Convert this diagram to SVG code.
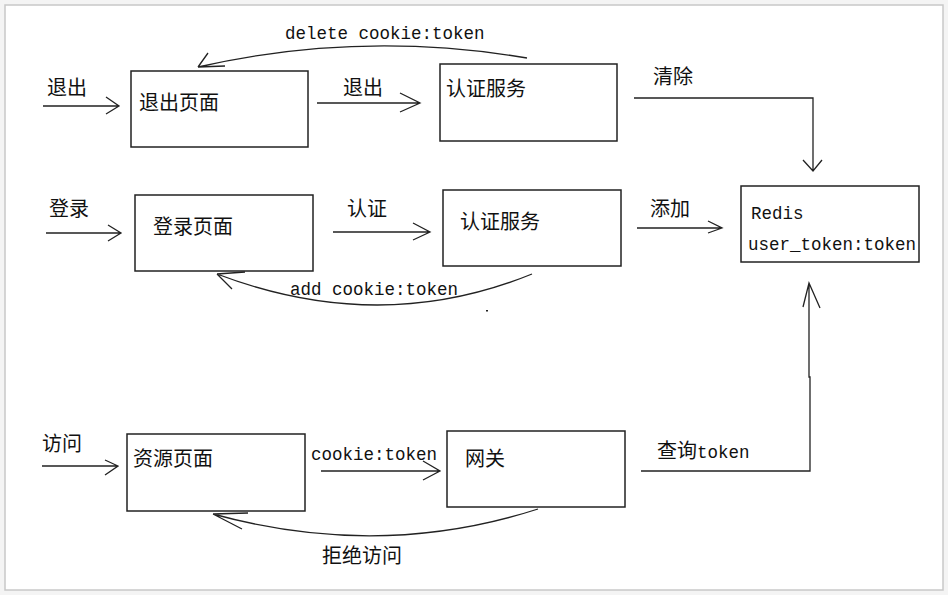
<svg xmlns="http://www.w3.org/2000/svg" width="948" height="595" viewBox="0 0 948 595">
<defs>
<style>
.box{fill:#fff;stroke:#222;stroke-width:1.5}
.ln{fill:none;stroke:#222;stroke-width:1.3}
.cn{font-family:"Noto Sans CJK SC","Liberation Sans",sans-serif;font-size:20px;fill:#111}
.mn{font-family:"Liberation Mono","DejaVu Sans Mono",monospace;font-size:17.5px;fill:#111}
</style>
</defs>
<rect x="0" y="0" width="948" height="595" fill="#f4f4f4"/>
<rect x="5" y="5" width="938" height="585" fill="#fff" stroke="#c8c8c8" stroke-width="1.5"/>

<g id="connectors">
<path class="ln" d="M43 106 H119 M106 97 L119 106 L106 114"/>
<path class="ln" d="M317 103 H420 M400 93 L420 103 L400 112"/>
<path class="ln" d="M527 58 Q360 30 198 67 M198 67 L208 53 M198 67 L225 66"/>
<path class="ln" d="M634 98 H813 V171 M803 160 L813 171 L822 160"/>
<path class="ln" d="M46 233 H121 M108 225 L121 233 L108 241"/>
<path class="ln" d="M333 232 H430 M413 223 L430 232 L413 240"/>
<path class="ln" d="M637 228 H722 M708 221 L722 228 L708 233"/>
<path class="ln" d="M532 274 Q380 336 217 274 M217 274 L232 289 M217 274 L245 272"/>
<rect x="486" y="310" width="2" height="1.5" fill="#222"/>
<path class="ln" d="M42 466 H118 M105 460 L118 466 L105 475"/>
<path class="ln" d="M321 471 H440 M423 461 L440 471 L423 480"/>
<path class="ln" d="M641 471 H810 V377 H809 V283 M803 307 L809 283 L820 308"/>
<path class="ln" d="M538 509 Q380 560 213 514 M213 514 L242 529 M213 514 L248 513"/>
</g>

<g id="labels">
<text class="cn" x="47" y="95">退出</text>
<text class="cn" x="343" y="95">退出</text>
<text class="mn" x="285" y="39">delete cookie:token</text>
<text class="cn" x="653" y="84">清除</text>
<text class="cn" x="49" y="216">登录</text>
<text class="cn" x="347" y="216">认证</text>
<text class="cn" x="650" y="216">添加</text>
<text class="mn" x="290" y="295">add cookie:token</text>
<text class="cn" x="42" y="451">访问</text>
<text class="mn" x="311" y="460">cookie:token</text>
<text x="657" y="458"><tspan class="cn">查询</tspan><tspan class="mn">token</tspan></text>
<text class="cn" x="322" y="563">拒绝访问</text>
</g>

<g id="logout-page"><rect class="box" x="131" y="71" width="177" height="76"/><text class="cn" x="139" y="110">退出页面</text></g>
<g id="auth-service-1"><rect class="box" x="440" y="64" width="177" height="77"/><text class="cn" x="446" y="96">认证服务</text></g>
<g id="login-page"><rect class="box" x="135" y="195" width="178" height="76"/><text class="cn" x="153" y="234">登录页面</text></g>
<g id="auth-service-2"><rect class="box" x="443" y="190" width="178" height="76"/><text class="cn" x="460" y="229">认证服务</text></g>
<g id="redis"><rect class="box" x="741" y="186" width="178" height="76"/><text class="mn" x="751" y="219">Redis</text><text class="mn" x="748" y="250">user_token:token</text></g>
<g id="resource-page"><rect class="box" x="127" y="434" width="178" height="77"/><text class="cn" x="133" y="466">资源页面</text></g>
<g id="gateway"><rect class="box" x="447" y="431" width="178" height="76"/><text class="cn" x="465" y="466">网关</text></g>
</svg>
